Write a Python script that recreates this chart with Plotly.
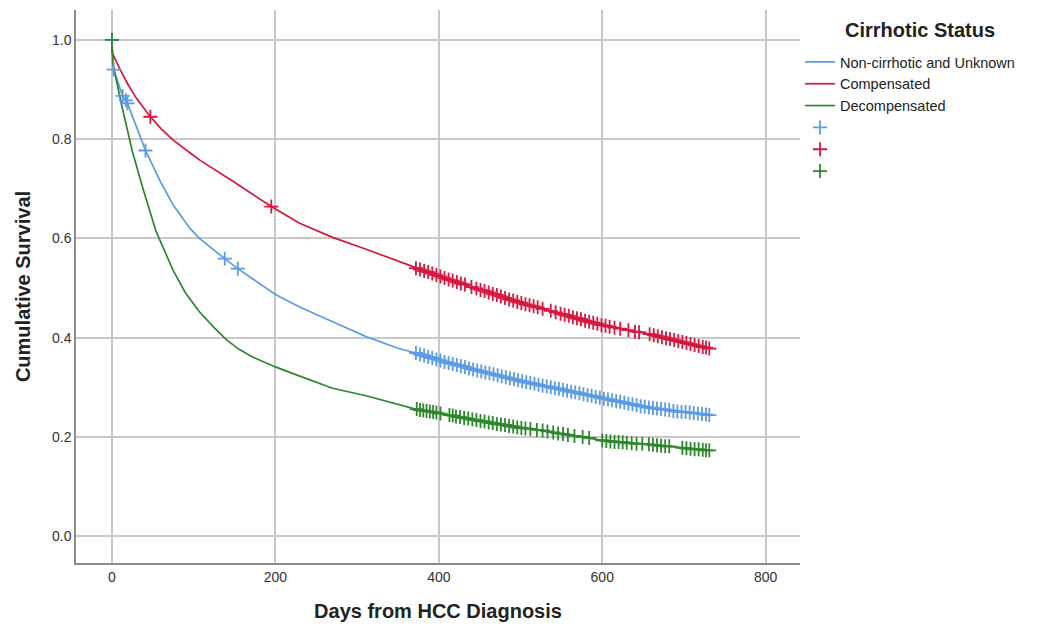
import plotly.graph_objects as go

# ---------------- data ----------------
x_ticks = [0, 200, 400, 600, 800]
y_ticks = [0.0, 0.2, 0.4, 0.6, 0.8, 1.0]

group_names = ["Non-cirrhotic and Unknown", "Compensated", "Decompensated"]
legend_title = "Cirrhotic Status"

# survival curves (day, cumulative survival)
blue_days = [0, 2, 13, 17, 19, 30, 41, 60, 75, 95, 107, 138, 154, 200, 229, 270, 311, 351,
             372, 400, 450, 500, 550, 597, 658, 700, 731]
blue_surv = [1.0, 0.940, 0.887, 0.878, 0.872, 0.825, 0.777, 0.712, 0.667, 0.621, 0.600, 0.559,
             0.539, 0.487, 0.462, 0.432, 0.402, 0.378, 0.369, 0.355, 0.333, 0.313, 0.296, 0.279,
             0.259, 0.251, 0.244]

red_days = [0, 0, 10, 20, 30, 40, 47, 60, 75, 99, 108, 148, 195, 229, 270, 311, 351, 372, 400,
            450, 500, 527, 550, 600, 658, 700, 731]
red_surv = [1.0, 0.975, 0.940, 0.909, 0.882, 0.859, 0.845, 0.821, 0.798, 0.768, 0.757, 0.715,
            0.664, 0.631, 0.602, 0.578, 0.554, 0.540, 0.524, 0.497, 0.470, 0.458, 0.448, 0.425,
            0.407, 0.390, 0.378]

green_days = [0, 1, 13, 25, 38, 54, 75, 90, 107, 125, 140, 155, 172, 200, 229, 270, 311, 351,
              376, 400, 450, 500, 527, 550, 597, 658, 700, 731]
green_surv = [1.0, 0.952, 0.860, 0.775, 0.700, 0.614, 0.535, 0.490, 0.452, 0.420, 0.396, 0.377,
              0.361, 0.341, 0.323, 0.298, 0.283, 0.266, 0.254, 0.248, 0.232, 0.218, 0.213, 0.206,
              0.194, 0.185, 0.178, 0.173]

# censored observations (day, survival at censoring)
blue_cens_days = [0, 2, 13, 17, 19, 41, 138, 154,
                  372, 377, 382, 387, 392, 397, 402, 407, 412, 417, 422, 427, 432, 437, 442, 447,
                  452, 457, 462, 467, 472, 477, 482, 487, 492, 497, 502, 507, 512, 517, 522, 527,
                  532, 537, 542, 547, 552, 557, 562, 567, 572, 577, 582, 587, 592, 597, 602, 607,
                  612, 617, 622, 627, 632, 637, 642, 647, 652, 657, 662, 667, 672, 677, 682, 687,
                  692, 697, 702, 707, 712, 717, 722, 727, 731]
blue_cens_surv = [1.0, 0.940, 0.887, 0.878, 0.872, 0.777, 0.559, 0.539,
                  0.369, 0.366, 0.364, 0.361, 0.359, 0.356, 0.354, 0.351, 0.349, 0.347, 0.345,
                  0.343, 0.341, 0.338, 0.336, 0.334, 0.332, 0.330, 0.328, 0.326, 0.324, 0.322,
                  0.320, 0.318, 0.316, 0.314, 0.312, 0.310, 0.309, 0.307, 0.305, 0.303, 0.302,
                  0.300, 0.298, 0.297, 0.295, 0.293, 0.291, 0.290, 0.288, 0.286, 0.284, 0.283,
                  0.281, 0.279, 0.277, 0.276, 0.274, 0.272, 0.271, 0.269, 0.267, 0.266, 0.264,
                  0.262, 0.261, 0.259, 0.258, 0.257, 0.256, 0.255, 0.254, 0.252, 0.251, 0.250,
                  0.250, 0.249, 0.248, 0.247, 0.246, 0.245, 0.244]

red_cens_days = [47, 195,
                 372, 377, 382, 387, 392, 397, 402, 407, 412, 417, 422, 427, 432, 440, 446, 451,
                 456, 461, 466, 471, 476, 481, 486, 491, 496, 501, 506, 511, 516, 521, 527, 537,
                 543, 549, 554, 559, 564, 569, 574, 579, 584, 589, 594, 599, 604, 609, 615, 622,
                 632, 640, 645, 658, 663, 668, 673, 678, 683, 688, 693, 698, 703, 708, 713, 718,
                 723, 727, 731]
red_cens_surv = [0.845, 0.664,
                 0.540, 0.537, 0.534, 0.532, 0.529, 0.526, 0.523, 0.520, 0.517, 0.515, 0.512,
                 0.509, 0.507, 0.502, 0.499, 0.496, 0.494, 0.491, 0.488, 0.486, 0.483, 0.480,
                 0.477, 0.475, 0.472, 0.470, 0.467, 0.465, 0.463, 0.461, 0.458, 0.454, 0.451,
                 0.448, 0.446, 0.444, 0.441, 0.439, 0.437, 0.434, 0.432, 0.430, 0.428, 0.425,
                 0.424, 0.422, 0.420, 0.418, 0.415, 0.412, 0.411, 0.407, 0.405, 0.403, 0.401,
                 0.399, 0.397, 0.395, 0.393, 0.391, 0.389, 0.387, 0.385, 0.383, 0.381, 0.380,
                 0.378]

green_cens_days = [0,
                   373, 377, 381, 385, 389, 393, 397, 402, 413, 417, 421, 426, 431, 436, 441, 446,
                   451, 456, 461, 466, 471, 476, 481, 486, 491, 496, 501, 506, 512, 520, 527, 533,
                   540, 546, 552, 558, 566, 576, 584, 600, 605, 610, 615, 620, 625, 630, 636, 642,
                   649, 657, 662, 667, 672, 677, 682, 698, 703, 708, 713, 718, 723, 727, 731]
green_cens_surv = [1.0,
                   0.256, 0.254, 0.253, 0.252, 0.251, 0.250, 0.249, 0.247, 0.244, 0.243, 0.241,
                   0.240, 0.238, 0.237, 0.235, 0.234, 0.232, 0.231, 0.229, 0.228, 0.226, 0.225,
                   0.224, 0.222, 0.221, 0.219, 0.218, 0.217, 0.216, 0.214, 0.213, 0.211, 0.209,
                   0.207, 0.206, 0.204, 0.202, 0.200, 0.198, 0.193, 0.192, 0.191, 0.190, 0.190,
                   0.189, 0.188, 0.187, 0.186, 0.186, 0.185, 0.184, 0.183, 0.182, 0.181, 0.181,
                   0.178, 0.177, 0.176, 0.175, 0.175, 0.174, 0.173, 0.173]

# ---------------- styling ----------------
BLUE = "#5B9BE3"
RED = "#D6173F"
GREEN = "#2E862E"
FONT = "Liberation Sans, Arial, sans-serif"

fig = go.Figure()

curves = [
    (group_names[0], blue_days, blue_surv, BLUE),
    (group_names[1], red_days, red_surv, RED),
    (group_names[2], green_days, green_surv, GREEN),
]
for name, d, s, c in curves:
    fig.add_trace(go.Scatter(x=d, y=s, mode="lines", name=name,
                             line=dict(color=c, width=1.7), hoverinfo="skip"))

cens = [
    (blue_cens_days, blue_cens_surv, BLUE),
    (red_cens_days, red_cens_surv, RED),
    (green_cens_days, green_cens_surv, GREEN),
]
for d, s, c in cens:
    fig.add_trace(go.Scatter(x=d, y=s, mode="markers", name="",
                             marker=dict(symbol="cross-thin", size=10,
                                         line=dict(color=c, width=1.8)),
                             hoverinfo="skip"))

fig.add_annotation(text="<b>" + legend_title + "</b>", xref="paper", yref="paper",
                   x=1.1657, y=0.9638, xanchor="center", yanchor="middle", showarrow=False,
                   font=dict(size=20, family=FONT, color="#222222"))

# the page body adds an 8px margin, so the figure is 16px smaller than the window
fig.update_layout(
    width=1024, height=614,
    margin=dict(l=68, r=232, t=2, b=59, autoexpand=False),
    paper_bgcolor="white", plot_bgcolor="white",
    font=dict(family=FONT, color="#222222"),
    showlegend=True,
    legend=dict(
        x=1.0, y=0.935, xanchor="left", yanchor="top",
        font=dict(size=14.5, family=FONT, color="#222222"),
        traceorder="normal", itemwidth=30, bgcolor="rgba(0,0,0,0)",
    ),
    xaxis=dict(
        range=[-44, 842], tickvals=x_ticks, ticks="", showgrid=True, automargin=False,
        gridcolor="#C8C8C8", gridwidth=1.5, zeroline=False,
        showline=True, linecolor="#8C8C8C", linewidth=1.5,
        tickfont=dict(size=14, family=FONT, color="#333333"),
        title=dict(text="<b>Days from HCC Diagnosis</b>", font=dict(size=20, family=FONT),
                   standoff=26),
    ),
    yaxis=dict(
        range=[-0.054, 1.06], tickvals=y_ticks, tickformat=".1f", ticks="", showgrid=True,
        automargin=False,
        gridcolor="#C8C8C8", gridwidth=1.5, zeroline=False,
        showline=True, linecolor="#8C8C8C", linewidth=1.5,
        tickfont=dict(size=14, family=FONT, color="#333333"),
        title=dict(text="<b>Cumulative Survival</b>", font=dict(size=20, family=FONT),
                   standoff=16),
    ),
)

fig.write_html("out.html")
